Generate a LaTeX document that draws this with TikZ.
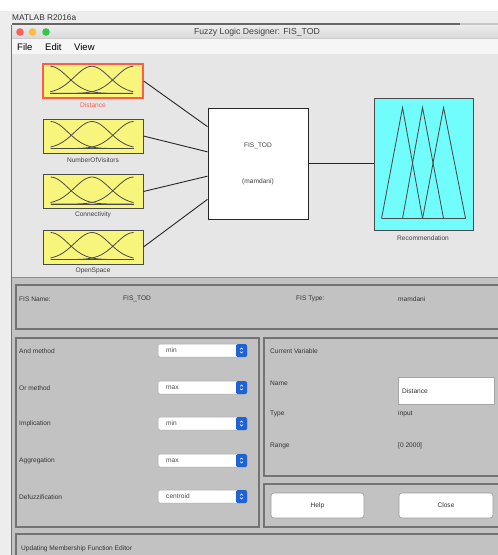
\documentclass[tikz,border=0pt]{standalone}
\usepackage{fontspec}
\setmainfont{Liberation Sans}
\usetikzlibrary{calc}
\definecolor{hdrbg}{HTML}{EDEDED}
\definecolor{titletop}{HTML}{ECECEC}
\definecolor{titlebot}{HTML}{D9D9D9}
\definecolor{menubg}{HTML}{F6F6F6}
\definecolor{diagbg}{HTML}{E6E6E6}
\definecolor{panelbg}{HTML}{C2C2C2}
\definecolor{mfyellow}{HTML}{F8F57C}
\definecolor{outcyan}{HTML}{72FDFD}
\definecolor{selred}{HTML}{FF5A4A}
\definecolor{macred}{HTML}{FC605C}
\definecolor{macyellow}{HTML}{FDBC40}
\definecolor{macgreen}{HTML}{34C84A}
\definecolor{btnblue}{HTML}{1F63D2}
\definecolor{edgegrey}{HTML}{4A4A4A}
\newcommand\smallfont{\fontsize{6.6}{7.5}\selectfont}
\newcommand\mfcurves{%
  \draw[edgegrey, line width=0.8] plot[domain=8:91, samples=40, smooth] (\x, {30-27*exp(-((\x-8)^2)/(2*17.4^2))});
  \draw[edgegrey, line width=0.8] plot[domain=8:91, samples=40, smooth] (\x, {30-27*exp(-((\x-49.5)^2)/(2*17.4^2))});
  \draw[edgegrey, line width=0.8] plot[domain=8:91, samples=40, smooth] (\x, {30-27*exp(-((\x-91)^2)/(2*17.4^2))});
  \draw[edgegrey, line width=0.8] (8,30) -- (91,30);
}
\newcommand\ddrow[4]{%
  \node[paneltxt, anchor=west] (#1lbl) at (19,#2+0.5) {#3};
  \node[ddbox] (#1) at (202.5,#2) {};
  \node[ddtxt, anchor=west] (#1val) at (166,#2) {#4};
  \node[ddbtn] (#1btn) at (241.5,#2) {};
  \draw[white, line width=0.55] ($(#1btn.center)+(-1.4,-1)$) -- ($(#1btn.center)+(0,-2.4)$) -- ($(#1btn.center)+(1.4,-1)$);
  \draw[white, line width=0.55] ($(#1btn.center)+(-1.4,1)$) -- ($(#1btn.center)+(0,2.4)$) -- ($(#1btn.center)+(1.4,1)$);
}
\begin{document}
\begin{tikzpicture}[x=1pt,y=-1pt,
  mfbox/.style={rectangle, draw=edgegrey, line width=0.9, fill=mfyellow, minimum width=100, minimum height=34, inner sep=0},
  fisbox/.style={rectangle, draw=black!85, line width=1, fill=white, minimum width=100, minimum height=111, inner sep=0},
  outbox/.style={rectangle, draw=edgegrey, line width=0.9, fill=outcyan, minimum width=99, minimum height=132, inner sep=0},
  conn/.style={draw=black!85, line width=0.9},
  lbl/.style={font=\smallfont, text=black!75, inner sep=0},
  paneltxt/.style={font=\smallfont, text=black!80, inner sep=0},
  panelbox/.style={draw=black!55, line width=1.1},
  ddbox/.style={rectangle, rounded corners=2, fill=white, draw=black!35, line width=0.5, minimum width=89, minimum height=13, inner sep=0},
  ddtxt/.style={font=\smallfont, text=black!70, inner sep=0},
  ddbtn/.style={rectangle, rounded corners=1.5, fill=btnblue, minimum width=11, minimum height=13, inner sep=0},
  pushbtn/.style={rectangle, rounded corners=3, fill=white, draw=black!40, line width=0.6, minimum height=25, inner sep=0, font=\smallfont, text=black!80},
  dot/.style={circle, inner sep=0, minimum size=7.6}
]
\useasboundingbox (0,0) rectangle (498,555);
\clip (0,0) rectangle (498,555);
% backgrounds
\fill[white] (0,0) rectangle (498,11);
\fill[hdrbg] (0,11) rectangle (498,555);
\node[anchor=west, font=\fontsize{8.3}{10}\selectfont, text=black!80, inner sep=0] (app) at (12,18) {MATLAB R2016a};
\draw[line width=1.3, draw=black!60] (12,24) -- (460,24);
\draw[line width=1.3, draw=black!22] (460,24) -- (498,24);
% window
\shade[top color=titletop, bottom color=titlebot] (12,25) rectangle (498,38);
\fill[menubg] (12,38) rectangle (498,54);
\draw[black!20, line width=0.5] (12,38) -- (498,38);
\draw[black!18, line width=0.5] (12,54) -- (498,54);
\fill[diagbg] (12,54.3) rectangle (498,277);
\fill[panelbg] (12,277) rectangle (498,555);
\draw[black!45, line width=1.6] (12,277.5) -- (498,277.5);
\draw[black!55, line width=0.8] (11.8,25) -- (11.8,555);
% title bar
\node[dot, fill=macred] (close) at (20,32) {};
\node[dot, fill=macyellow] (minim) at (32.5,32) {};
\node[dot, fill=macgreen] (zoom) at (46,32) {};
\node[font=\fontsize{8.7}{10}\selectfont, text=black!75, inner sep=0] (title) at (257,32) {Fuzzy Logic Designer: FIS\_TOD};
% menu
\node[anchor=west, font=\fontsize{9.5}{11}\selectfont, inner sep=0] (mfile) at (17,47) {File};
\node[anchor=west, font=\fontsize{9.5}{11}\selectfont, inner sep=0] (medit) at (45,47) {Edit};
\node[anchor=west, font=\fontsize{9.5}{11}\selectfont, inner sep=0] (mview) at (74,47) {View};
% input membership boxes
\node[mfbox, draw=selred, line width=1.4] (dist) at (93,81) {};
\node[mfbox] (nov) at (93,136) {};
\node[mfbox] (conv) at (93,191.5) {};
\node[mfbox] (opsp) at (93,247) {};
\foreach \b in {dist,nov,conv,opsp}{
  \begin{scope}[shift={(\b.north west)}]
    \mfcurves
  \end{scope}
}
\node[lbl, text=selred] (distl) at (93,105) {Distance};
\node[lbl] (novl) at (93,160) {NumberOfVisitors};
\node[lbl] (convl) at (93,215) {Connectivity};
\node[lbl] (opspl) at (93,270.5) {OpenSpace};
% FIS box
\node[fisbox] (fis) at (258,163.5) {};
\node[lbl] (fisname) at (258,146) {FIS\_TOD};
\node[lbl] (fistype) at (258,182) {(mamdani)};
% output box
\node[outbox] (out) at (423.5,164) {};
\begin{scope}[shift={(out.north west)}]
  \draw[edgegrey, line width=0.85] (8,121) -- (29,10) -- (49,121);
  \draw[edgegrey, line width=0.85] (29,121) -- (49,10) -- (70,121);
  \draw[edgegrey, line width=0.85] (49,121) -- (70,10) -- (92,121);
  \draw[edgegrey, line width=0.85] (8,121) -- (92,121);
\end{scope}
\node[lbl] (outl) at (423,238.5) {Recommendation};
% connectors
\draw[conn] (dist.east) -- ($(fis.north west)!0.171!(fis.south west)$);
\draw[conn] (nov.east) -- ($(fis.north west)!0.396!(fis.south west)$);
\draw[conn] (conv.east) -- ($(fis.north west)!0.613!(fis.south west)$);
\draw[conn] (opsp.east) -- ($(fis.north west)!0.82!(fis.south west)$);
\draw[conn] (fis.east) -- (fis.east -| out.west);
% lower panel: FIS name
\draw[panelbox] (16,285) rectangle (505,329);
\node[paneltxt, anchor=west] (fnl) at (19,299) {FIS Name:};
\node[paneltxt, anchor=west] (fnv) at (123,299) {FIS\_TOD};
\node[paneltxt, anchor=west] (ftl) at (296,299) {FIS Type:};
\node[paneltxt, anchor=west] (ftv) at (398,299) {mamdani};
% left method panel
\draw[panelbox] (16,338) rectangle (259,527);
\ddrow{andm}{350.5}{And method}{min}
\ddrow{orm}{387.5}{Or method}{max}
\ddrow{impl}{423.5}{Implication}{min}
\ddrow{aggr}{460.5}{Aggregation}{max}
\ddrow{defz}{496.5}{Defuzzification}{centroid}
% current variable panel
\draw[panelbox] (264,338) rectangle (505,476);
\node[paneltxt, anchor=west] (cvl) at (270,351) {Current Variable};
\node[paneltxt, anchor=west] (namel) at (270,383) {Name};
\node[rectangle, fill=white, draw=black!35, line width=0.5, minimum width=96, minimum height=27, inner sep=0] (namef) at (446,390.5) {};
\node[paneltxt, anchor=west] (namev) at (402,391) {Distance};
\node[paneltxt, anchor=west] (typel) at (270,414) {Type};
\node[paneltxt, anchor=west] (typev) at (398,414) {input};
\node[paneltxt, anchor=west] (rangel) at (270,446) {Range};
\node[paneltxt, anchor=west] (rangev) at (398,446) {[0 2000]};
% buttons panel
\draw[panelbox] (264,484) rectangle (505,527);
\node[pushbtn, minimum width=93] (help) at (317.5,505.5) {Help};
\node[pushbtn, minimum width=94] (closeb) at (446,505.5) {Close};
% status
\draw[panelbox] (16,534) rectangle (505,560);
\node[paneltxt, anchor=west] (status) at (21,549) {Updating Membership Function Editor};
\end{tikzpicture}
\end{document}
